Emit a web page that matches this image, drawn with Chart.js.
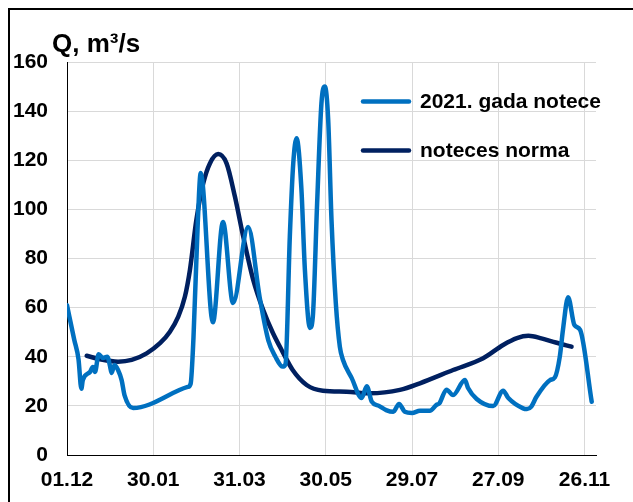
<!DOCTYPE html>
<html>
<head>
<meta charset="utf-8">
<script src="https://cdn.jsdelivr.net/npm/chart.js@4"></script>
<style>
    html, body { margin: 0; padding: 0; background: #fff; }
    #wrap { position: relative; width: 633px; height: 502px; }
</style>
</head>
<body>
<div id="wrap"><canvas id="chart" width="633" height="502"></canvas></div>
<script>
// x = day counted from 01.12, gridlines every 60 days
const tickLabels = ['01.12', '30.01', '31.03', '30.05', '29.07', '27.09', '26.11'];

const flowLabel = '2021. gada notece';
const flowDays = [0, 5, 8, 10, 11, 16, 18, 19.5, 22, 25, 28, 30, 31, 33, 35.5, 38, 40, 46,
    84, 86, 88, 91, 93, 101.5, 108.5, 115.5, 126, 134, 140, 145, 150, 152,
    155, 157.4, 159.7, 163, 165.5, 169, 171, 174, 177, 179.4, 181.7, 184, 187, 189.8,
    192, 198, 205, 208.5, 212, 217, 222, 227, 231, 235, 240, 245.5, 252.4, 257, 259,
    264, 268.6, 276.8, 279, 285, 296.5, 303.4, 307, 317.3, 320, 323, 326.6, 336, 339.4,
    342.8, 345, 348.6, 353, 357, 365];
const flowValues = [61, 47, 39, 27, 30.5, 33.8, 35.8, 33.8, 41, 39.5, 40, 36, 33.4, 36.6, 34.6, 30.5, 24.4, 19.1,
    27.7, 29, 48, 95, 114.8, 54, 94.9, 61.9, 92.8, 64.3, 46.8, 40, 36, 37,
    88.8, 118.8, 129, 109, 75.3, 51.7, 56.3, 102.5, 143.2, 150, 136.4, 95.7, 61.8, 44.1,
    38.7, 31.4, 23.2, 28, 21.7, 20, 18.3, 17.6, 20.8, 17.6, 17.1, 18, 18, 20.4, 21,
    26.6, 24.4, 30.5, 27.3, 22.8, 19.9, 26.2, 23.2, 19, 18.7, 19.7, 23.7, 30.5, 31.6,
    40, 50.9, 64.2, 52.9, 50.9, 21.7];

const normLabel = 'noteces norma';
const normDays = [13.7, 23, 35.5, 45, 55.4, 64.7, 71.6, 77.4, 82, 85.5, 90, 94.8, 99.4, 105.2,
    111, 116.8, 122.6, 129.6, 136.5, 143, 150, 157, 166.7, 178, 194.5, 210.7, 231.6,
    245.5, 268.6, 289.5, 303.4, 313, 321, 330, 340, 351];
const normValues = [40.4, 39, 38, 38.7, 41.4, 45.5, 50.2, 56.3, 64.4, 75.3, 95.7, 110.6, 118.7, 122.5,
    118.7, 105.2, 88.9, 71.2, 59, 50, 42, 34.6, 28.5, 26.2, 25.8, 25.1, 26.5,
    29.2, 34.6, 39.4, 44.8, 47.6, 48.5, 47.5, 45.8, 44.1];

const FONT = "'Liberation Sans', Arial, sans-serif";
const LIGHT = '#0070C0';
const DARK = '#002060';

const toPoints = (xs, ys) => xs.map((x, i) => ({ x: x, y: ys[i] }));

// frame, axis title and legend drawn on top of the chart
const decorations = {
    id: 'decorations',
    afterDraw(chart) {
        const ctx = chart.ctx;
        ctx.save();
        ctx.strokeStyle = '#000';
        ctx.lineWidth = 2;
        ctx.beginPath();
        ctx.moveTo(9, 502);
        ctx.lineTo(9, 9);
        ctx.lineTo(633, 9);
        ctx.stroke();

        ctx.fillStyle = '#000';
        ctx.font = 'bold 26px ' + FONT;
        ctx.textBaseline = 'alphabetic';
        ctx.fillText('Q, m\u00B3/s', 52, 52);

        const items = [
            { label: flowLabel, color: LIGHT, y: 101.5 },
            { label: normLabel, color: DARK, y: 150.5 }
        ];
        ctx.font = 'bold 21px ' + FONT;
        ctx.textBaseline = 'middle';
        ctx.lineWidth = 4.5;
        ctx.lineCap = 'round';
        items.forEach(it => {
            ctx.strokeStyle = it.color;
            ctx.beginPath();
            ctx.moveTo(363, it.y);
            ctx.lineTo(409, it.y);
            ctx.stroke();
            ctx.fillText(it.label, 420, it.y + 1);
        });
        ctx.restore();
    }
};

new Chart(document.getElementById('chart'), {
    type: 'line',
    data: {
        datasets: [
            {
                label: flowLabel,
                data: toPoints(flowDays, flowValues),
                borderColor: LIGHT,
                borderWidth: 4.5,
                pointRadius: 0,
                cubicInterpolationMode: 'monotone',
                borderCapStyle: 'round',
                borderJoinStyle: 'round'
            },
            {
                label: normLabel,
                data: toPoints(normDays, normValues),
                borderColor: DARK,
                borderWidth: 4.5,
                pointRadius: 0,
                cubicInterpolationMode: 'monotone',
                borderCapStyle: 'round',
                borderJoinStyle: 'round'
            }
        ]
    },
    options: {
        responsive: false,
        animation: false,
        devicePixelRatio: 1,
        layout: { padding: { left: 0, top: 62, right: 37, bottom: 0 } },
        plugins: {
            legend: { display: false },
            tooltip: { enabled: false }
        },
        scales: {
            x: {
                type: 'linear',
                min: 0,
                max: 368,
                grid: { color: '#d9d9d9', lineWidth: 1, drawTicks: false },
                border: { color: '#000', width: 1 },
                ticks: {
                    stepSize: 60,
                    includeBounds: false,
                    padding: 13,
                    maxRotation: 0,
                    color: '#000',
                    font: { family: FONT, size: 21, weight: 'bold' },
                    callback: v => tickLabels[Math.round(v / 60)]
                },
                afterFit: s => { s.height = 47; }
            },
            y: {
                min: 0,
                max: 160,
                grid: { color: '#d9d9d9', lineWidth: 1, drawTicks: false },
                border: { color: '#000', width: 1 },
                ticks: {
                    stepSize: 20,
                    padding: 19,
                    color: '#000',
                    font: { family: FONT, size: 21, weight: 'bold' }
                },
                afterFit: s => { s.width = 67; }
            }
        }
    },
    plugins: [decorations]
});
</script>
</body>
</html>
